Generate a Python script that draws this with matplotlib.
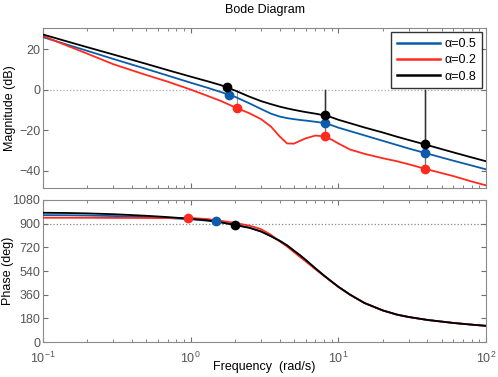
import numpy as np
import matplotlib
matplotlib.use("Agg")
import matplotlib.pyplot as plt

plt.rcParams['font.family'] = ['Liberation Sans', 'DejaVu Sans']

# frequency grid (rad/s)
freq = [0.1, 0.15, 0.2, 0.3, 0.5, 0.7, 1.0, 1.3, 1.6, 2.0, 2.5, 3.0, 3.5, 4.0, 4.5, 5.0,
        5.5, 6.0, 7.0, 8.0, 9.0, 10.0, 12.0, 15.0, 20.0, 25.0, 30.0, 40.0, 60.0, 80.0, 100.0]

# magnitude (dB)
mag_05 = [26.0, 22.0, 19.2, 15.2, 10.3, 7.0, 3.5, 1.0, -1.1, -3.5, -6.7, -9.5, -11.8, -13.2, -14.0, -14.5,
          -14.9, -15.2, -15.8, -16.4, -17.5, -18.7, -20.4, -22.5, -25.2, -27.3, -29.0, -31.5, -35.0, -37.4, -39.3]
mag_02 = [26.6, 21.4, 17.8, 12.6, 7.3, 4.0, 0.1, -3.0, -5.5, -8.7, -11.6, -14.5, -18.2, -23.0, -26.5, -26.6,
          -25.2, -24.0, -22.6, -23.0, -24.6, -26.5, -29.5, -31.6, -33.8, -35.3, -36.8, -39.3, -42.6, -45.3, -47.2]
mag_08 = [27.3, 23.6, 21.0, 17.4, 12.8, 9.7, 6.5, 4.2, 2.3, -0.4, -3.4, -5.6, -7.1, -8.3, -9.2, -9.9,
          -10.5, -11.0, -11.8, -12.6, -13.6, -14.8, -16.5, -18.6, -21.1, -23.2, -24.8, -27.3, -30.9, -33.4, -35.3]

# phase (deg)
ph_05 = [965, 964, 962, 958, 950, 943, 933, 923, 911, 893, 870, 841, 805, 770, 734, 694,
         659, 624, 559, 505, 460, 420, 360, 297, 240, 208, 190, 168, 145, 132, 123]
ph_02 = [945, 945, 945, 944, 943, 943, 943, 935, 922, 905, 885, 858, 815, 766, 726, 684,
         647, 614, 553, 503, 458, 419, 360, 297, 240, 208, 190, 168, 145, 132, 123]
ph_08 = [983, 981, 978, 972, 960, 950, 937, 925, 910, 889, 868, 840, 804, 770, 735, 695,
         660, 625, 560, 505, 460, 420, 360, 297, 240, 208, 190, 168, 145, 132, 123]

# margin markers
mk_freq_mag = [1.83, 2.07, 1.76]
mk_freq_hi = [8.15, 38.4]
mk_mag_lo = [-2.4, -9.1, 1.4]
mk_mag_8 = [-16.4, -23.0, -12.6]
mk_mag_38 = [-31.2, -38.9, -26.9]
mk_freq_ph = [1.48, 0.955, 2.0]
mk_ph = [917, 945, 889]

labels = ['α=0.5', 'α=0.2', 'α=0.8']
colors = ['#0a5cab', '#ff2a1f', '#000000']
mags = [mag_05, mag_02, mag_08]
phases = [ph_05, ph_02, ph_08]

fig = plt.figure(figsize=(4.98, 3.77), dpi=100)
ax1 = fig.add_axes([0.0863, 0.5013, 0.8897, 0.4244])
ax2 = fig.add_axes([0.0863, 0.0928, 0.8897, 0.3767])

grey = '#6e6e6e'
for ax in (ax1, ax2):
    ax.set_xscale('log')
    ax.set_xlim(0.1, 100)
    ax.tick_params(which='both', direction='in', top=True, right=True,
                   colors=grey, labelsize=9, labelcolor='#555555')
    ax.tick_params(which='major', length=3.5)
    ax.tick_params(which='minor', length=2)
    ax.tick_params(axis='y', pad=2)
    ax.tick_params(axis='x', pad=6)
    for s in ax.spines.values():
        s.set_color('#8a8a8a')

# reference lines
ax1.axhline(0, color='#aaaaaa', lw=0.9, ls=':', zorder=1)
ax2.axhline(900, color='#888888', lw=0.9, ls=':', zorder=1)

# vertical margin lines
for f, lo, hi in zip(mk_freq_hi, [min(mk_mag_8), min(mk_mag_38)], [max(mk_mag_8), max(mk_mag_38)]):
    ax1.plot([f, f], [0, lo], color='#777777', lw=1.0, zorder=2)
    ax1.plot([f, f], [0, hi], color='#333333', lw=1.0, zorder=2)
ax1.plot([mk_freq_mag[1]] * 2, [0, mk_mag_lo[1]], color='#999999', lw=0.8, zorder=2)

for m, c, lab in zip(mags, colors, labels):
    ax1.plot(freq, m, color=c, lw=1.3, label=lab, zorder=3)
for p, c in zip(phases, colors):
    ax2.plot(freq, p, color=c, lw=1.3, zorder=3)

# markers (black series on top)
for i in [1, 0, 2]:
    ax1.plot([mk_freq_mag[i]], [mk_mag_lo[i]], 'o', color=colors[i], ms=6, zorder=4)
    ax1.plot(mk_freq_hi, [mk_mag_8[i], mk_mag_38[i]], 'o', color=colors[i], ms=6, ls='none', zorder=4)
    ax2.plot([mk_freq_ph[i]], [mk_ph[i]], 'o', color=colors[i], ms=6, zorder=4)

ax1.set_ylim(-48.5, 30.5)
ax1.set_yticks([-40, -20, 0, 20])
ax1.set_xticklabels([])
ax1.set_ylabel('Magnitude (dB)', fontsize=9)
ax1.yaxis.set_label_coords(-0.061, 0.5)
ax1.set_title('Bode Diagram', fontsize=9, pad=11)

ax2.set_ylim(0, 1080)
ax2.set_yticks([0, 180, 360, 540, 720, 900, 1080])
ax2.set_ylabel('Phase (deg)', fontsize=9)
ax2.yaxis.set_label_coords(-0.066, 0.5)
ax2.set_xlabel('Frequency  (rad/s)', fontsize=9, labelpad=-3)

leg = ax1.legend(loc='upper right', fontsize=9, frameon=True, fancybox=False,
                 edgecolor='black', handlelength=3.5, borderaxespad=0.35,
                 labelspacing=0.35, handletextpad=0.3, borderpad=0.45)
leg.get_frame().set_linewidth(1.0)
for h in leg.get_lines():
    h.set_linewidth(1.8)

fig.savefig('out.png', dpi=100)
